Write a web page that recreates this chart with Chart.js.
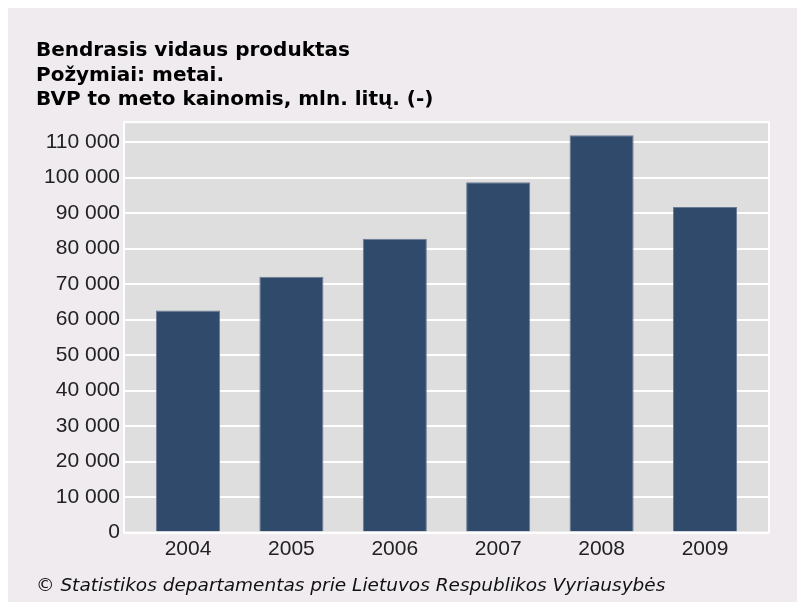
<!DOCTYPE html>
<html>
<head>
<meta charset="utf-8">
<script src="https://cdn.jsdelivr.net/npm/chart.js@4"></script>
<style>
html,body{margin:0;padding:0;background:#fff;}
#wrap{position:absolute;left:8px;top:8px;width:789px;height:594px;background:#EFEBEF;}
</style>
</head>
<body>
<div id="wrap"><canvas id="c" width="789" height="594"></canvas></div>
<script>
const titleLines = ["Bendrasis vidaus produktas", "Požymiai: metai.", "BVP to meto kainomis, mln. litų. (-)"];
const footerText = "© Statistikos departamentas prie Lietuvos Respublikos Vyriausybės";
const years = ["2004", "2005", "2006", "2007", "2008", "2009"];
const gdp = [62587, 72060, 82794, 98669, 111920, 91700];
const yTicks = [0, 10000, 20000, 30000, 40000, 50000, 60000, 70000, 80000, 90000, 100000, 110000];
const yMax = 115600;

const plotBg = {
  id: 'plotBg',
  beforeDraw(chart) {
    const {ctx, chartArea: a} = chart;
    ctx.save();
    ctx.fillStyle = '#DEDEDE';
    ctx.fillRect(a.left, a.top, a.right - a.left, a.bottom - a.top);
    ctx.restore();
  },
  afterDatasetsDraw(chart) {
    const {ctx, chartArea: a} = chart;
    ctx.save();
    ctx.strokeStyle = '#FFFFFF';
    ctx.lineWidth = 2;
    ctx.strokeRect(a.left, a.top, a.right - a.left, a.bottom - a.top);
    ctx.restore();
  }
};

const fmt = v => String(v).replace(/\B(?=(\d{3})+(?!\d))/g, ' ');

new Chart(document.getElementById('c'), {
  type: 'bar',
  data: {
    datasets: [{
      data: gdp.map((v, i) => ({ x: i, y: v })),
      backgroundColor: '#304A6C',
      borderColor: '#6A7D96',
      borderWidth: 1,
      categoryPercentage: 1,
      barPercentage: 0.62
    }]
  },
  options: {
    responsive: false,
    animation: false,
    layout: { padding: { left: 28, right: 28, top: 0, bottom: 5 } },
    plugins: {
      legend: { display: false },
      tooltip: { enabled: false },
      title: {
        display: true,
        text: titleLines,
        align: 'start',
        color: '#000',
        font: { family: 'DejaVu Sans', size: 20, weight: 'bold', lineHeight: 1.22 },
        padding: { top: 31, bottom: 10 }
      },
      subtitle: {
        display: true,
        position: 'bottom',
        align: 'start',
        text: footerText,
        color: '#111',
        font: { family: 'DejaVu Sans', size: 18.5, style: 'italic', lineHeight: 1.2 },
        padding: { top: 9, bottom: 0 }
      }
    },
    scales: {
      x: {
        type: 'linear',
        min: -0.619,
        max: 5.619,
        offset: false,
        afterBuildTicks(scale) { scale.ticks = years.map((y, i) => ({ value: i })); },
        grid: { display: false, drawTicks: false },
        border: { display: false },
        ticks: { color: '#222', font: { family: 'Liberation Sans', size: 21 }, padding: 4, maxRotation: 0, autoSkip: false, callback: (v) => years[Math.round(v)] }
      },
      y: {
        min: 0,
        max: yMax,
        afterBuildTicks(scale) { scale.ticks = yTicks.map(v => ({ value: v })); },
        afterFit(scale) { scale.width = 88; },
        grid: { color: '#FFFFFF', lineWidth: 2, drawTicks: false },
        border: { display: false },
        ticks: { color: '#222', font: { family: 'Liberation Sans', size: 21 }, padding: 4, callback: v => fmt(v) }
      }
    }
  },
  plugins: [plotBg]
});
</script>
</body>
</html>
